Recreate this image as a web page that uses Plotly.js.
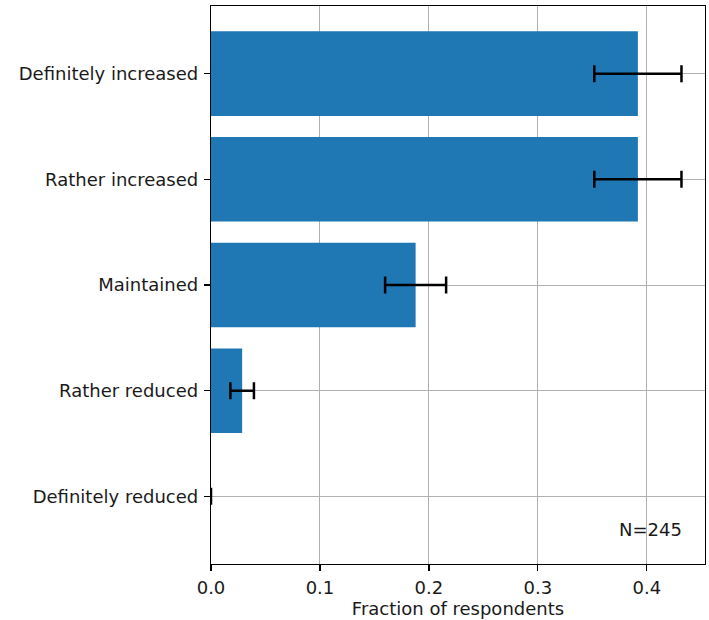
<!DOCTYPE html>
<html>
<head>
<meta charset="utf-8">
<script src="https://cdn.plot.ly/plotly-3.0.1.min.js"></script>
<style>html,body{margin:0;padding:0;background:#fff;}#chart{width:709px;height:620px;}</style>
</head>
<body>
<div id="chart"></div>
<script>
const categories = ["Definitely reduced", "Rather reduced", "Maintained", "Rather increased", "Definitely increased"];
const fractions = [0.0, 0.0286, 0.1878, 0.3918, 0.3918];
const errors = [0.0, 0.0108, 0.028, 0.040, 0.040];
const nLabel = "N=245";

const font = {family: "DejaVu Sans, sans-serif", size: 18, color: "#1a1a1a"};

const trace = {
  type: "bar",
  orientation: "h",
  y: categories,
  x: fractions,
  width: 0.8,
  marker: {color: "#1f77b4", line: {width: 0}},
  error_x: {type: "data", array: errors, visible: true, color: "#000", thickness: 2.5, width: 8.5},
  hoverinfo: "none"
};

const layout = {
  width: 709, height: 620,
  margin: {l: 211, r: 4, t: 6, b: 56, pad: 0},
  paper_bgcolor: "#fff", plot_bgcolor: "#fff",
  font: font,
  showlegend: false,
  bargap: 0.2,
  xaxis: {
    range: [0, 0.4534],
    tickvals: [0, 0.1, 0.2, 0.3, 0.4],
    ticktext: ["0.0", "0.1", "0.2", "0.3", "0.4"],
    showgrid: true, gridcolor: "#b0b0b0", gridwidth: 1,
    zeroline: false,
    showline: true, linecolor: "#000", linewidth: 1.2, mirror: true,
    ticks: "outside", ticklen: 6, tickwidth: 1.2, tickcolor: "#000",
    ticklabelstandoff: 1,
    tickfont: font,
    title: {text: "Fraction of respondents", font: font, standoff: 4}
  },
  yaxis: {
    type: "category",
    categoryorder: "array", categoryarray: categories,
    range: [-0.64, 4.64],
    showgrid: true, gridcolor: "#b0b0b0", gridwidth: 1,
    zeroline: false,
    showline: true, linecolor: "#000", linewidth: 1.2, mirror: true,
    ticks: "outside", ticklen: 6, tickwidth: 1.2, tickcolor: "#000",
    ticklabelstandoff: 2,
    tickfont: font
  },
  annotations: [{
    xref: "paper", yref: "paper", x: 0.957, y: 0.04,
    xanchor: "right", yanchor: "bottom",
    text: nLabel, showarrow: false, font: font
  }]
};

Plotly.newPlot("chart", [trace], layout, {staticPlot: true, displayModeBar: false});
</script>
</body>
</html>
